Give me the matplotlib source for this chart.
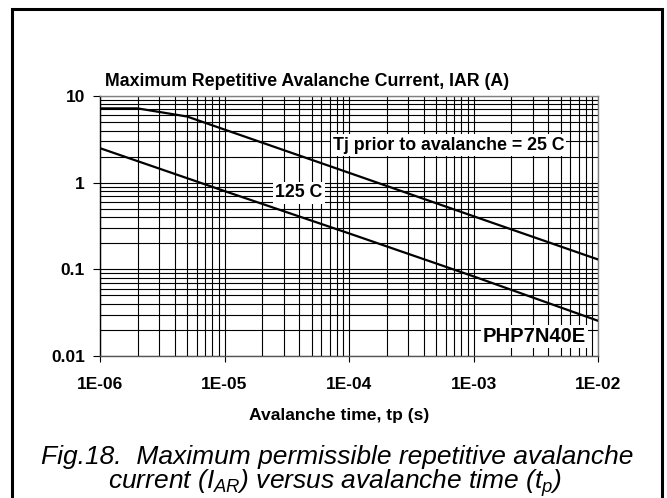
#!/usr/bin/env python3

"""Maximum repetitive avalanche current versus avalanche time (PHP7N40E)."""

import matplotlib
matplotlib.use('Agg')
import matplotlib.pyplot as plt
import matplotlib.patches as patches
from matplotlib.ticker import LogLocator, FixedFormatter, FixedLocator, NullFormatter

plt.rcParams['font.family'] = ['Liberation Sans', 'DejaVu Sans']
plt.rcParams['mathtext.fontset'] = 'custom'
plt.rcParams['mathtext.it'] = 'Liberation Sans:italic'
plt.rcParams['mathtext.rm'] = 'Liberation Sans'

# Curve values (time in s, current in A)
t25 = [1e-6, 2e-6, 5e-6, 1e-5, 1e-4, 1e-3, 1e-2]
iar25 = [7.2, 7.2, 5.8, 4.1, 1.3, 0.41, 0.13]

t125 = [1e-6, 1e-5, 1e-4, 1e-3, 1e-2]
iar125 = [2.5, 0.80, 0.26, 0.083, 0.0255]

xticks = [1e-6, 1e-5, 1e-4, 1e-3, 1e-2]
xticklabels = ['1E-06', '1E-05', '1E-04', '1E-03', '1E-02']
yticks = [0.01, 0.1, 1, 10]
yticklabels = ['0.01', '0.1', '1', '10']

fig = plt.figure(figsize=(6.67, 4.98), dpi=100)
ax = fig.add_axes([0.15, 0.2851, 0.7466, 0.5221])

ax.plot(t25, iar25, color='black', lw=1.6, zorder=3)
ax.plot(t125, iar125, color='black', lw=1.6, zorder=3)

ax.set_xscale('log')
ax.set_yscale('log')
ax.set_xlim(1e-6, 1e-2)
ax.set_ylim(0.01, 10)

ax.xaxis.set_major_locator(FixedLocator(xticks))
ax.xaxis.set_major_formatter(FixedFormatter(xticklabels))
ax.yaxis.set_major_locator(FixedLocator(yticks))
ax.yaxis.set_major_formatter(FixedFormatter(yticklabels))
ax.xaxis.set_minor_locator(LogLocator(base=10, subs=range(2, 10)))
ax.yaxis.set_minor_locator(LogLocator(base=10, subs=range(2, 10)))
ax.xaxis.set_minor_formatter(NullFormatter())
ax.yaxis.set_minor_formatter(NullFormatter())

ax.grid(which='both', color='black', lw=0.8)
ax.tick_params(which='minor', length=0)
ax.tick_params(axis='x', which='major', direction='out', length=4, pad=11,
               labelsize=12.5, width=0.8)
ax.tick_params(axis='y', which='major', direction='out', length=5, pad=6,
               labelsize=12.5, width=0.8)
for lbl in ax.get_xticklabels() + ax.get_yticklabels():
    lbl.set_fontweight('bold')

ax.spines['left'].set_color('black')
ax.spines['bottom'].set_color('#555555')
ax.spines['top'].set_color('#808080')
ax.spines['right'].set_color('#808080')
for s in ax.spines.values():
    s.set_linewidth(1.0)

box = dict(facecolor='white', edgecolor='none', pad=1.5)
ax.text(0.6998, 0.8115, 'Tj prior to avalanche = 25 C', transform=ax.transAxes,
        ha='center', va='center', fontsize=12.8, fontweight='bold', bbox=box,
        zorder=4)
ax.text(0.3996, 0.627, '125 C', transform=ax.transAxes, ha='center',
        va='center', fontsize=12.8, fontweight='bold', bbox=box, zorder=4)
ax.text(0.9757, 0.0746, 'PHP7N40E', transform=ax.transAxes, ha='right',
        va='center', fontsize=14.5, fontweight='bold', bbox=box, zorder=4)

fig.text(105 / 667, 1 - 81 / 498,
         'Maximum Repetitive Avalanche Current, IAR (A)',
         ha='left', va='center', fontsize=12.8, fontweight='bold')
fig.text(339.5 / 667, 1 - 415 / 498, 'Avalanche time, tp (s)',
         ha='center', va='center', fontsize=12.6, fontweight='bold')

fig.text(337 / 667, 1 - 457 / 498,
         'Fig.18.  Maximum permissible repetitive avalanche',
         ha='center', va='center', fontsize=19, style='italic')
fig.text(335 / 667, 1 - 483 / 498,
         r'current ($I_{AR}$) versus avalanche time ($t_p$)',
         ha='center', va='center', fontsize=19, style='italic')

# Outer frame around the whole figure (open at the bottom)
frame = patches.Rectangle((11.5 / 667, -0.05), (662 - 11.5) / 667,
                          1 - 9.5 / 498 + 0.05, transform=fig.transFigure,
                          fill=False, edgecolor='black', lw=2.2,
                          clip_on=False)
fig.patches.append(frame)

fig.savefig('out.png', dpi=100)
